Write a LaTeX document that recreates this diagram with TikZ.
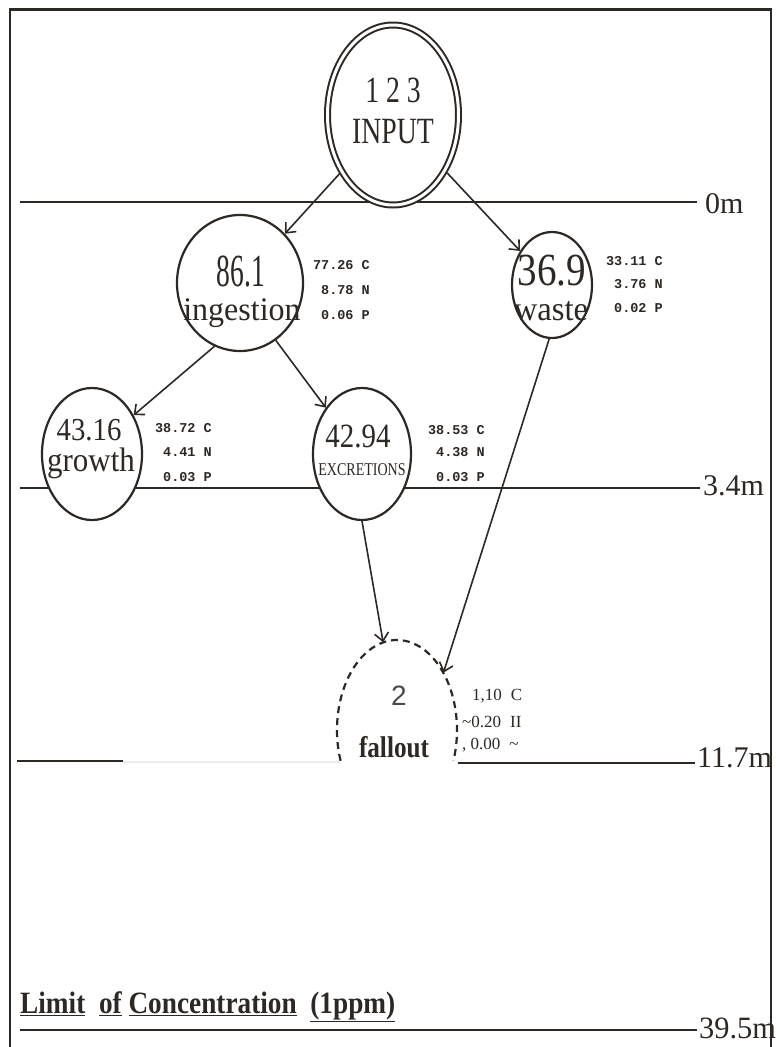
\documentclass[tikz,border=0pt]{standalone}
\usepackage{fontspec}
\setmainfont{Liberation Serif}
\newfontfamily\monof{Liberation Mono}
\newfontfamily\sansf{Liberation Sans}
\usepackage{graphicx}
\usetikzlibrary{shapes.geometric,arrows.meta,calc}
\definecolor{ink}{RGB}{45,40,36}
\newcommand\sqz[2]{\scalebox{#1}[1]{#2}}
\newcommand\fs[1]{\fontsize{#1}{#1}\selectfont}
\begin{document}
\begin{tikzpicture}[x=1pt,y=-1pt,
  every node/.style={inner sep=0pt, text=ink},
  blob/.style={ellipse, draw=ink, line width=2.2pt, fill=white, minimum width=#1},
  levelline/.style={draw=ink, line width=2.6pt},
  arr/.style={draw=ink, line width=1.6pt, -{Straight Barb[length=8pt,width=14pt,line width=1.6pt]}},
  mono/.style={font=\monof\bfseries\fs{13.5}, anchor=base east},
  depthlab/.style={font=\fs{30}, anchor=base west},
  side/.style={font=\fs{17}, anchor=base west},
]
\useasboundingbox (0,0) rectangle (776,1047);
\fill[white] (0,0) rectangle (776,1047);
% frame
\draw[ink, line width=2.4pt] (10,1047) -- (10,9.5) -- (771,9.5) -- (771,1047);

% depth levels
\draw[levelline] (20,202) -- (697,202);
\node[depthlab] (l0) at (705,213) {0m};
\draw[levelline] (20,488) -- (700,488);
\node[depthlab] (l34) at (703,495) {3.4m};
\draw[levelline] (17,761) -- (123,761);
\draw[gray!15, line width=1.5pt] (123,762) -- (340,762);
\draw[levelline] (458,763) -- (695,763);
\node[depthlab] (l117) at (697,767) {11.7m};
\draw[levelline] (20,1030) -- (697,1030);
\node[depthlab, font=\fs{31}] (l395) at (699,1038) {\sqz{0.98}{39.5m}};

% ellipses
\node[blob=131pt, minimum height=180pt, double=white, double distance=3pt, line width=2pt, outer sep=3.5pt] (input) at (393,115) {};
\node[blob=126pt, minimum height=136pt] (ingest) at (240,283) {};
\node[blob=80pt, minimum height=106pt] (waste) at (552,285) {};
\node[blob=100pt, minimum height=132pt] (growth) at (92,454) {};
\node[blob=98pt, minimum height=132pt] (excr) at (362,454) {};
\node[ellipse, minimum width=120pt, minimum height=180pt] (fall) at (397,730) {};
\draw[ink, line width=2.2pt, dash pattern=on 7pt off 5pt]
  ($(fall.center)+(160:60 and 90)$) arc[start angle=160, end angle=380, x radius=60, y radius=90];

% texts in ellipses
\node[font=\fs{37}, anchor=base] (inNum) at (393,102) {\sqz{0.75}{1 2 3}};
\node[font=\fs{37}, anchor=base] (inLab) at (393,143) {\sqz{0.75}{INPUT}};
\node[font=\fs{46}, anchor=base] (ingNum) at (241,286) {\sqz{0.6}{86.1}};
\node[font=\fs{33}, anchor=base] (ingLab) at (242,320) {\sqz{0.97}{ingestion}};
\node[font=\fs{46}, anchor=base] (wasNum) at (552,285) {\sqz{0.85}{36.9}};
\node[font=\fs{34}, anchor=base] (wasLab) at (551,320) {\sqz{0.96}{waste}};
\node[font=\fs{32}, anchor=base] (groNum) at (89,440) {\sqz{0.9}{43.16}};
\node[font=\fs{34}, anchor=base] (groLab) at (91,471) {\sqz{0.91}{growth}};
\node[font=\fs{34}, anchor=base] (excNum) at (358,447) {\sqz{0.85}{42.94}};
\node[font=\fs{18}, anchor=base] (excLab) at (362,475) {\sqz{0.78}{EXCRETIONS}};
\node[font=\sansf\fs{28}, anchor=base, text=ink!85] (falNum) at (399,705) {2};
\node[font=\bfseries\fs{30}, anchor=base] (falLab) at (394,757) {\sqz{0.84}{fallout}};

% side values
\node[mono] (ingC) at (370,269) {77.26 C};
\node[mono] (ingN) at (370,294) {8.78 N};
\node[mono] (ingP) at (370,319) {0.06 P};
\node[mono] (wasC) at (663,265) {33.11 C};
\node[mono] (wasN) at (663,288) {3.76 N};
\node[mono] (wasP) at (663,312) {0.02 P};
\node[mono] (groC) at (212,432) {38.72 C};
\node[mono] (groN) at (212,456) {4.41 N};
\node[mono] (groP) at (212,481) {0.03 P};
\node[mono] (excC) at (485,434) {38.53 C};
\node[mono] (excN) at (485,456) {4.38 N};
\node[mono] (excP) at (485,481) {0.03 P};
\node[side] (falC) at (472,700) {1,10\hspace{9pt}C};
\node[side] (falN) at (462,727) {\textasciitilde0.20\hspace{9pt}II};
\node[side] (falP) at (462,749) {, 0.00\hspace{9pt}\textasciitilde};

% arrows
\draw[arr] (input) -- (ingest);
\draw[arr] (input) -- (waste);
\draw[arr] (ingest.248) -- (growth.43);
\draw[arr] (ingest.302) -- (excr.128);
\draw[arr] (excr.south) -- (fall.99);
\draw[arr] (waste.267) -- (fall.51);

% bottom caption
\node[anchor=base west, font=\bfseries\fs{31}] (limit) at (20,1013)
  {\sqz{0.88}{\underline{Limit}\ \ \underline{of}\ \underline{Concentration}\ \ \underline{(1ppm)}}};
\end{tikzpicture}
\end{document}
